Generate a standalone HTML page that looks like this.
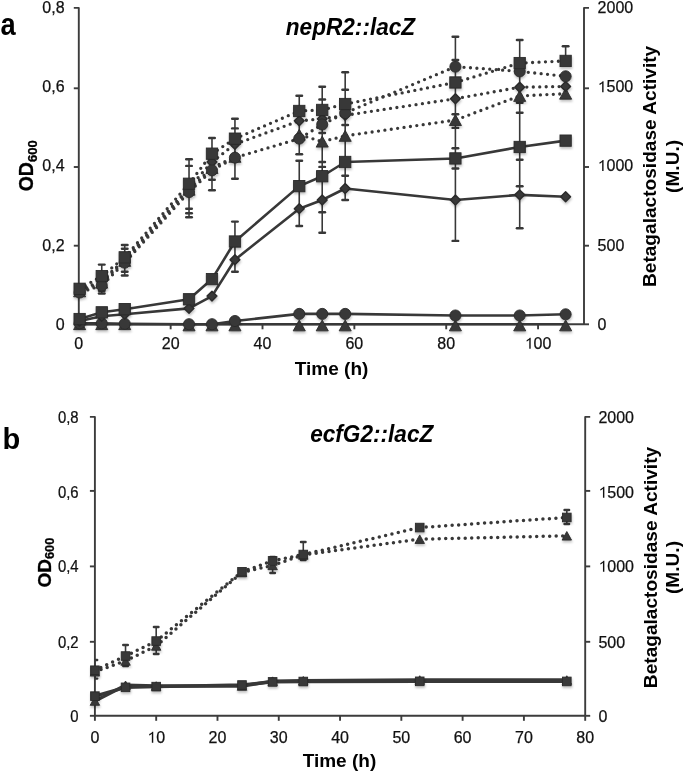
<!DOCTYPE html>
<html><head><meta charset="utf-8"><title>figure</title><style>
html,body{margin:0;padding:0;background:#fff;}
body{width:685px;height:772px;overflow:hidden;}
svg{display:block;filter:blur(0.35px);}
text{font-family:"Liberation Sans",sans-serif;}
</style></head><body>
<svg width="685" height="772" viewBox="0 0 685 772">
<defs><clipPath id="clipB"><rect x="94.9" y="380" width="500" height="340"/></clipPath><filter id="sh" x="-30%" y="-30%" width="160%" height="170%"><feDropShadow dx="0.5" dy="2" stdDeviation="1.2" flood-color="#000" flood-opacity="0.24"/></filter></defs>
<g id="chartA">
<g stroke="#3c3c3c" stroke-width="1.9" fill="none" stroke-linecap="butt" stroke-linejoin="round">
<path d="M73.8 7.9H78.8V324.3H584"/>
<path d="M589 7.9H584V324.3"/>
<path d="M73.8 324.3H78.8"/>
<path d="M584 324.3H589"/>
<path d="M73.8 245.7H78.8"/>
<path d="M584 245.7H589"/>
<path d="M73.8 167H78.8"/>
<path d="M584 167H589"/>
<path d="M73.8 88.3H78.8"/>
<path d="M584 88.3H589"/>
<path d="M78.8 324.3V329.3"/>
<path d="M170.65 324.3V329.3"/>
<path d="M262.51 324.3V329.3"/>
<path d="M354.36 324.3V329.3"/>
<path d="M446.22 324.3V329.3"/>
<path d="M538.07 324.3V329.3"/>
</g>
<g font-size="16" fill="#111" stroke="#111" stroke-width="0.25">
<text x="64.6" y="329.93" text-anchor="end">0</text>
<text x="64.6" y="251.13" text-anchor="end">0,2</text>
<text x="64.6" y="170.93" text-anchor="end">0,4</text>
<text x="64.6" y="92.23" text-anchor="end">0,6</text>
<text x="64.6" y="13.43" text-anchor="end">0,8</text>
<text x="597.6" y="329.93">0</text>
<text x="597.6" y="251.13">500</text>
<path transform="translate(597.6 170.93) scale(0.007812 -0.007812)" d="M763 0H583V1147Q518 1085 433 1023Q330 961 245 930V1104Q390 1172 499 1254Q609 1336 655 1409H763Z"/>
<text x="606.5" y="170.93">000</text>
<path transform="translate(597.6 92.23) scale(0.007812 -0.007812)" d="M763 0H583V1147Q518 1085 433 1023Q330 961 245 930V1104Q390 1172 499 1254Q609 1336 655 1409H763Z"/>
<text x="606.5" y="92.23">500</text>
<text x="597.6" y="13.43">2000</text>
<text x="78.8" y="348.8" text-anchor="middle">0</text>
<text x="170.65" y="348.8" text-anchor="middle">20</text>
<text x="262.51" y="348.8" text-anchor="middle">40</text>
<text x="354.36" y="348.8" text-anchor="middle">60</text>
<text x="446.22" y="348.8" text-anchor="middle">80</text>
<path transform="translate(524.72 348.8) scale(0.007812 -0.007812)" d="M763 0H583V1147Q518 1085 433 1023Q330 961 245 930V1104Q390 1172 499 1254Q609 1336 655 1409H763Z"/>
<text x="533.62" y="348.8">00</text>
</g>
<g>
<path d="M79.63 292.55L101.76 285.51M101.76 285.51L124.73 262.68M124.73 262.68L189.03 192.06M189.03 192.06L211.99 170.3M211.99 170.3L234.95 157.64M234.95 157.64L299.25 138.65M299.25 138.65L322.21 124.53M322.21 124.53L345.18 112.94M345.18 112.94L455.4 66.65M455.4 66.65L519.7 71.4M519.7 71.4L565.63 76.3" fill="none" stroke="#383838" stroke-width="3.3" stroke-dasharray="0 6.45" stroke-dashoffset="-2.2" stroke-linecap="round"/>
<path d="M79.63 290.18L101.76 280.68M101.76 280.68L124.73 259.71M124.73 259.71L189.03 187.71M189.03 187.71L211.99 161.99M211.99 161.99L234.95 144.19M234.95 144.19L299.25 120.85M299.25 120.85L322.21 118.87M322.21 118.87L345.18 115.31M345.18 115.31L455.4 98.69M455.4 98.69L519.7 87.22M519.7 87.22L565.63 86.43" fill="none" stroke="#383838" stroke-width="3.3" stroke-dasharray="0 6.45" stroke-dashoffset="-0.7" stroke-linecap="round"/>
<path d="M79.63 291.36L101.76 282.66M101.76 282.66L124.73 260.9M124.73 260.9L189.03 189.69M189.03 189.69L211.99 167.93M211.99 167.93L234.95 156.85M299.25 134.7L322.21 141.62M322.21 141.62L345.18 135.88M345.18 135.88L455.4 120.06M455.4 120.06L519.7 95.92M519.7 95.92L565.63 93.71" fill="none" stroke="#383838" stroke-width="3.3" stroke-dasharray="0 6.45" stroke-dashoffset="-1.4" stroke-linecap="round"/>
<path d="M79.63 288.79L101.76 276.09M101.76 276.09L124.73 257.34M124.73 257.34L189.03 183.75M189.03 183.75L211.99 153.69M211.99 153.69L234.95 138.65M234.95 138.65L299.25 110.96M299.25 110.96L322.21 109.93M322.21 109.93L345.18 104.03M345.18 104.03L455.4 82.47M455.4 82.47L519.7 63.09M519.7 63.09L565.63 60.91" fill="none" stroke="#383838" stroke-width="3.3" stroke-dasharray="0 6.45" stroke-dashoffset="0" stroke-linecap="round"/>
<polyline points="79.63,324.2 101.76,324.2 124.73,324.2 189.03,324.2 211.99,324.2 234.95,324.2 299.25,324.2 322.21,324.2 345.18,324.2 455.4,324.2 519.7,324.2 565.63,324.2" fill="none" stroke="#383838" stroke-width="2.6" stroke-linejoin="round"/>
<polyline points="79.63,323.41 101.76,323.41 124.73,323.8 189.03,324.2 211.99,324.2 234.95,321.03 299.25,313.91 322.21,313.91 345.18,313.91 455.4,315.5 519.7,315.5 565.63,314.31" fill="none" stroke="#383838" stroke-width="2.6" stroke-linejoin="round"/>
<polyline points="79.63,321.03 101.76,316.29 124.73,314.31 189.03,308.38 211.99,296.11 234.95,259.71 299.25,208.68 322.21,199.97 345.18,188.5 455.4,199.97 519.7,194.83 565.63,196.81" fill="none" stroke="#383838" stroke-width="2.6" stroke-linejoin="round"/>
<polyline points="79.63,319.06 101.76,312.33 124.73,309.17 189.03,299.28 211.99,279.1 234.95,241.51 299.25,186.13 322.21,176.24 345.18,161.99 455.4,158.43 519.7,146.96 565.63,140.63" fill="none" stroke="#383838" stroke-width="2.6" stroke-linejoin="round"/>
</g>
<g stroke="#383838" stroke-width="1.6">
<line x1="101.76" y1="264.6" x2="101.76" y2="293.5"/>
<line x1="98.96" y1="290.7" x2="104.56" y2="290.7" stroke-width="2.4" stroke-linecap="round"/>
<line x1="98.96" y1="264.6" x2="104.56" y2="264.6" stroke-width="2.4" stroke-linecap="round"/>
<line x1="98.96" y1="293.5" x2="104.56" y2="293.5" stroke-width="2.4" stroke-linecap="round"/>
<line x1="124.73" y1="245" x2="124.73" y2="275.5"/>
<line x1="121.93" y1="248.7" x2="127.53" y2="248.7" stroke-width="2.4" stroke-linecap="round"/>
<line x1="121.93" y1="271.8" x2="127.53" y2="271.8" stroke-width="2.4" stroke-linecap="round"/>
<line x1="121.93" y1="245" x2="127.53" y2="245" stroke-width="2.4" stroke-linecap="round"/>
<line x1="121.93" y1="275.5" x2="127.53" y2="275.5" stroke-width="2.4" stroke-linecap="round"/>
<line x1="189.03" y1="159.3" x2="189.03" y2="217.3"/>
<line x1="186.23" y1="165.9" x2="191.83" y2="165.9" stroke-width="2.4" stroke-linecap="round"/>
<line x1="186.23" y1="208.7" x2="191.83" y2="208.7" stroke-width="2.4" stroke-linecap="round"/>
<line x1="186.23" y1="213.3" x2="191.83" y2="213.3" stroke-width="2.4" stroke-linecap="round"/>
<line x1="186.23" y1="159.3" x2="191.83" y2="159.3" stroke-width="2.4" stroke-linecap="round"/>
<line x1="186.23" y1="217.3" x2="191.83" y2="217.3" stroke-width="2.4" stroke-linecap="round"/>
<line x1="211.99" y1="138" x2="211.99" y2="190.2"/>
<line x1="209.19" y1="179.7" x2="214.79" y2="179.7" stroke-width="2.4" stroke-linecap="round"/>
<line x1="209.19" y1="138" x2="214.79" y2="138" stroke-width="2.4" stroke-linecap="round"/>
<line x1="209.19" y1="190.2" x2="214.79" y2="190.2" stroke-width="2.4" stroke-linecap="round"/>
<line x1="234.95" y1="118.8" x2="234.95" y2="178.7"/>
<line x1="232.15" y1="128.4" x2="237.75" y2="128.4" stroke-width="2.4" stroke-linecap="round"/>
<line x1="232.15" y1="118.8" x2="237.75" y2="118.8" stroke-width="2.4" stroke-linecap="round"/>
<line x1="232.15" y1="178.7" x2="237.75" y2="178.7" stroke-width="2.4" stroke-linecap="round"/>
<line x1="234.95" y1="221.6" x2="234.95" y2="271.8"/>
<line x1="232.15" y1="221.6" x2="237.75" y2="221.6" stroke-width="2.4" stroke-linecap="round"/>
<line x1="232.15" y1="271.8" x2="237.75" y2="271.8" stroke-width="2.4" stroke-linecap="round"/>
<line x1="299.25" y1="95.8" x2="299.25" y2="154.2"/>
<line x1="296.45" y1="95.8" x2="302.05" y2="95.8" stroke-width="2.4" stroke-linecap="round"/>
<line x1="296.45" y1="154.2" x2="302.05" y2="154.2" stroke-width="2.4" stroke-linecap="round"/>
<line x1="299.25" y1="160.8" x2="299.25" y2="226"/>
<line x1="296.45" y1="160.8" x2="302.05" y2="160.8" stroke-width="2.4" stroke-linecap="round"/>
<line x1="296.45" y1="226" x2="302.05" y2="226" stroke-width="2.4" stroke-linecap="round"/>
<line x1="322.21" y1="86.8" x2="322.21" y2="232.7"/>
<line x1="319.41" y1="99.5" x2="325.01" y2="99.5" stroke-width="2.4" stroke-linecap="round"/>
<line x1="319.41" y1="133" x2="325.01" y2="133" stroke-width="2.4" stroke-linecap="round"/>
<line x1="319.41" y1="162" x2="325.01" y2="162" stroke-width="2.4" stroke-linecap="round"/>
<line x1="319.41" y1="166.9" x2="325.01" y2="166.9" stroke-width="2.4" stroke-linecap="round"/>
<line x1="319.41" y1="212.3" x2="325.01" y2="212.3" stroke-width="2.4" stroke-linecap="round"/>
<line x1="319.41" y1="86.8" x2="325.01" y2="86.8" stroke-width="2.4" stroke-linecap="round"/>
<line x1="319.41" y1="232.7" x2="325.01" y2="232.7" stroke-width="2.4" stroke-linecap="round"/>
<line x1="345.18" y1="72.2" x2="345.18" y2="200"/>
<line x1="342.38" y1="89.8" x2="347.98" y2="89.8" stroke-width="2.4" stroke-linecap="round"/>
<line x1="342.38" y1="125" x2="347.98" y2="125" stroke-width="2.4" stroke-linecap="round"/>
<line x1="342.38" y1="175.8" x2="347.98" y2="175.8" stroke-width="2.4" stroke-linecap="round"/>
<line x1="342.38" y1="72.2" x2="347.98" y2="72.2" stroke-width="2.4" stroke-linecap="round"/>
<line x1="342.38" y1="200" x2="347.98" y2="200" stroke-width="2.4" stroke-linecap="round"/>
<line x1="455.4" y1="36.8" x2="455.4" y2="240.9"/>
<line x1="452.6" y1="60" x2="458.2" y2="60" stroke-width="2.4" stroke-linecap="round"/>
<line x1="452.6" y1="114.3" x2="458.2" y2="114.3" stroke-width="2.4" stroke-linecap="round"/>
<line x1="452.6" y1="127.9" x2="458.2" y2="127.9" stroke-width="2.4" stroke-linecap="round"/>
<line x1="452.6" y1="148.3" x2="458.2" y2="148.3" stroke-width="2.4" stroke-linecap="round"/>
<line x1="452.6" y1="168.5" x2="458.2" y2="168.5" stroke-width="2.4" stroke-linecap="round"/>
<line x1="452.6" y1="36.8" x2="458.2" y2="36.8" stroke-width="2.4" stroke-linecap="round"/>
<line x1="452.6" y1="240.9" x2="458.2" y2="240.9" stroke-width="2.4" stroke-linecap="round"/>
<line x1="519.7" y1="40" x2="519.7" y2="228.3"/>
<line x1="516.9" y1="102.7" x2="522.5" y2="102.7" stroke-width="2.4" stroke-linecap="round"/>
<line x1="516.9" y1="112.7" x2="522.5" y2="112.7" stroke-width="2.4" stroke-linecap="round"/>
<line x1="516.9" y1="159.8" x2="522.5" y2="159.8" stroke-width="2.4" stroke-linecap="round"/>
<line x1="516.9" y1="186.3" x2="522.5" y2="186.3" stroke-width="2.4" stroke-linecap="round"/>
<line x1="516.9" y1="40" x2="522.5" y2="40" stroke-width="2.4" stroke-linecap="round"/>
<line x1="516.9" y1="228.3" x2="522.5" y2="228.3" stroke-width="2.4" stroke-linecap="round"/>
<line x1="565.63" y1="46.2" x2="565.63" y2="60"/>
<line x1="562.83" y1="46.2" x2="568.43" y2="46.2" stroke-width="2.4" stroke-linecap="round"/>
<line x1="562.83" y1="60" x2="568.43" y2="60" stroke-width="2.4" stroke-linecap="round"/>
</g>
<g fill="#383838" stroke="#2a2a2a" stroke-width="0.9" filter="url(#sh)">
<path d="M79.63 285.9L85.66 296.83L73.59 296.83Z"/>
<path d="M101.76 277.2L107.8 288.12L95.73 288.12Z"/>
<path d="M124.73 255.44L130.76 266.36L118.69 266.36Z"/>
<path d="M189.03 184.22L195.06 195.15L182.99 195.15Z"/>
<path d="M211.99 162.47L218.03 173.39L205.95 173.39Z"/>
<path d="M234.95 151.39L240.99 162.31L228.92 162.31Z"/>
<path d="M299.25 129.23L305.29 140.16L293.21 140.16Z"/>
<path d="M322.21 136.16L328.25 147.08L316.18 147.08Z"/>
<path d="M345.18 130.42L351.22 141.34L339.14 141.34Z"/>
<path d="M455.4 114.59L461.44 125.52L449.37 125.52Z"/>
<path d="M519.7 90.46L525.74 101.39L513.66 101.39Z"/>
<path d="M565.63 88.25L571.67 99.17L559.59 99.17Z"/>
<path d="M79.63 285.23L84.57 290.18L79.63 295.12L74.68 290.18Z" stroke-width="1.4" stroke-linejoin="round"/>
<path d="M101.76 275.74L106.71 280.68L101.76 285.63L96.82 280.68Z" stroke-width="1.4" stroke-linejoin="round"/>
<path d="M124.73 254.77L129.67 259.71L124.73 264.66L119.78 259.71Z" stroke-width="1.4" stroke-linejoin="round"/>
<path d="M189.03 182.76L193.97 187.71L189.03 192.65L184.08 187.71Z" stroke-width="1.4" stroke-linejoin="round"/>
<path d="M211.99 157.05L216.93 161.99L211.99 166.94L207.04 161.99Z" stroke-width="1.4" stroke-linejoin="round"/>
<path d="M234.95 139.25L239.9 144.19L234.95 149.14L230.01 144.19Z" stroke-width="1.4" stroke-linejoin="round"/>
<path d="M299.25 115.9L304.2 120.85L299.25 125.79L294.31 120.85Z" stroke-width="1.4" stroke-linejoin="round"/>
<path d="M322.21 113.93L327.16 118.87L322.21 123.82L317.27 118.87Z" stroke-width="1.4" stroke-linejoin="round"/>
<path d="M345.18 110.37L350.12 115.31L345.18 120.25L340.23 115.31Z" stroke-width="1.4" stroke-linejoin="round"/>
<path d="M455.4 93.75L460.35 98.69L455.4 103.64L450.46 98.69Z" stroke-width="1.4" stroke-linejoin="round"/>
<path d="M519.7 82.28L524.65 87.22L519.7 92.17L514.76 87.22Z" stroke-width="1.4" stroke-linejoin="round"/>
<path d="M565.63 81.48L570.57 86.43L565.63 91.37L560.68 86.43Z" stroke-width="1.4" stroke-linejoin="round"/>
<circle cx="79.63" cy="292.55" r="5.55"/>
<circle cx="101.76" cy="285.51" r="5.55"/>
<circle cx="124.73" cy="262.68" r="5.55"/>
<circle cx="189.03" cy="192.06" r="5.55"/>
<circle cx="211.99" cy="170.3" r="5.55"/>
<circle cx="234.95" cy="157.64" r="5.55"/>
<circle cx="299.25" cy="138.65" r="5.55"/>
<circle cx="322.21" cy="124.53" r="5.55"/>
<circle cx="345.18" cy="112.94" r="5.55"/>
<circle cx="455.4" cy="66.65" r="5.55"/>
<circle cx="519.7" cy="71.4" r="5.55"/>
<circle cx="565.63" cy="76.3" r="5.55"/>
<rect x="73.97" y="283.14" width="11.31" height="11.31"/>
<rect x="96.11" y="270.44" width="11.31" height="11.31"/>
<rect x="119.07" y="251.69" width="11.31" height="11.31"/>
<rect x="183.37" y="178.1" width="11.31" height="11.31"/>
<rect x="206.34" y="148.03" width="11.31" height="11.31"/>
<rect x="229.3" y="133" width="11.31" height="11.31"/>
<rect x="293.6" y="105.31" width="11.31" height="11.31"/>
<rect x="316.56" y="104.28" width="11.31" height="11.31"/>
<rect x="339.53" y="98.38" width="11.31" height="11.31"/>
<rect x="449.75" y="76.82" width="11.31" height="11.31"/>
<rect x="514.05" y="57.43" width="11.31" height="11.31"/>
<rect x="559.98" y="55.26" width="11.31" height="11.31"/>
<path d="M79.63 318.74L85.66 329.66L73.59 329.66Z"/>
<path d="M101.76 318.74L107.8 329.66L95.73 329.66Z"/>
<path d="M124.73 318.74L130.76 329.66L118.69 329.66Z"/>
<path d="M189.03 319.94L195.06 330.86L182.99 330.86Z"/>
<path d="M211.99 319.94L218.03 330.86L205.95 330.86Z"/>
<path d="M234.95 319.94L240.99 330.86L228.92 330.86Z"/>
<path d="M299.25 319.94L305.29 330.86L293.21 330.86Z"/>
<path d="M322.21 319.94L328.25 330.86L316.18 330.86Z"/>
<path d="M345.18 319.94L351.22 330.86L339.14 330.86Z"/>
<path d="M455.4 319.94L461.44 330.86L449.37 330.86Z"/>
<path d="M519.7 319.94L525.74 330.86L513.66 330.86Z"/>
<path d="M565.63 319.94L571.67 330.86L559.59 330.86Z"/>
<circle cx="79.63" cy="323.41" r="5.55"/>
<circle cx="101.76" cy="323.41" r="5.55"/>
<circle cx="124.73" cy="323.8" r="5.55"/>
<circle cx="189.03" cy="324.2" r="5.55"/>
<circle cx="211.99" cy="324.2" r="5.55"/>
<circle cx="234.95" cy="321.03" r="5.55"/>
<circle cx="299.25" cy="313.91" r="5.55"/>
<circle cx="322.21" cy="313.91" r="5.55"/>
<circle cx="345.18" cy="313.91" r="5.55"/>
<circle cx="455.4" cy="315.5" r="5.55"/>
<circle cx="519.7" cy="315.5" r="5.55"/>
<circle cx="565.63" cy="314.31" r="5.55"/>
<path d="M79.63 316.09L84.57 321.03L79.63 325.98L74.68 321.03Z" stroke-width="1.4" stroke-linejoin="round"/>
<path d="M101.76 311.34L106.71 316.29L101.76 321.23L96.82 316.29Z" stroke-width="1.4" stroke-linejoin="round"/>
<path d="M124.73 309.36L129.67 314.31L124.73 319.25L119.78 314.31Z" stroke-width="1.4" stroke-linejoin="round"/>
<path d="M189.03 303.43L193.97 308.38L189.03 313.32L184.08 308.38Z" stroke-width="1.4" stroke-linejoin="round"/>
<path d="M211.99 291.17L216.93 296.11L211.99 301.06L207.04 296.11Z" stroke-width="1.4" stroke-linejoin="round"/>
<path d="M234.95 254.77L239.9 259.71L234.95 264.66L230.01 259.71Z" stroke-width="1.4" stroke-linejoin="round"/>
<path d="M299.25 203.73L304.2 208.68L299.25 213.62L294.31 208.68Z" stroke-width="1.4" stroke-linejoin="round"/>
<path d="M322.21 195.03L327.16 199.97L322.21 204.92L317.27 199.97Z" stroke-width="1.4" stroke-linejoin="round"/>
<path d="M345.18 183.56L350.12 188.5L345.18 193.45L340.23 188.5Z" stroke-width="1.4" stroke-linejoin="round"/>
<path d="M455.4 195.03L460.35 199.97L455.4 204.92L450.46 199.97Z" stroke-width="1.4" stroke-linejoin="round"/>
<path d="M519.7 189.89L524.65 194.83L519.7 199.78L514.76 194.83Z" stroke-width="1.4" stroke-linejoin="round"/>
<path d="M565.63 191.86L570.57 196.81L565.63 201.75L560.68 196.81Z" stroke-width="1.4" stroke-linejoin="round"/>
<rect x="73.97" y="313.4" width="11.31" height="11.31"/>
<rect x="96.11" y="306.68" width="11.31" height="11.31"/>
<rect x="119.07" y="303.51" width="11.31" height="11.31"/>
<rect x="183.37" y="293.62" width="11.31" height="11.31"/>
<rect x="206.34" y="273.45" width="11.31" height="11.31"/>
<rect x="229.3" y="235.86" width="11.31" height="11.31"/>
<rect x="293.6" y="180.47" width="11.31" height="11.31"/>
<rect x="316.56" y="170.58" width="11.31" height="11.31"/>
<rect x="339.53" y="156.34" width="11.31" height="11.31"/>
<rect x="449.75" y="152.78" width="11.31" height="11.31"/>
<rect x="514.05" y="141.31" width="11.31" height="11.31"/>
<rect x="559.98" y="134.98" width="11.31" height="11.31"/>
</g>
<text transform="translate(0.6 35.4) scale(0.88 1)" font-size="31" font-weight="bold" fill="#000">a</text>
<text transform="translate(285.8 35.2) scale(0.983 1)" font-size="23" font-weight="bold" font-style="italic" fill="#000">nepR2::lacZ</text>
<text x="294.8" y="375" font-size="19" font-weight="bold" fill="#000">Time (h)</text>
<text transform="translate(33.0 191.3) rotate(-90)" font-size="19.5" font-weight="bold" fill="#000" stroke="#000" stroke-width="0.3">OD<tspan font-size="13" dy="3.9">600</tspan></text>
<text transform="translate(656.4 166.4) rotate(-90)" font-size="19.1" font-weight="bold" fill="#000" text-anchor="middle">Betagalactosidase Activity</text>
<text transform="translate(678.6 166.4) rotate(-90)" font-size="19.1" font-weight="bold" fill="#000" text-anchor="middle">(M.U.)</text>
</g>
<g id="chartB">
<g stroke="#3c3c3c" stroke-width="1.9" fill="none" stroke-linecap="butt" stroke-linejoin="round">
<path d="M89.9 416.9H94.9V715.8H585.2"/>
<path d="M590.2 416.9H585.2V715.8"/>
<path d="M89.9 715.8H94.9"/>
<path d="M585.2 715.8H590.2"/>
<path d="M89.9 641.8H94.9"/>
<path d="M585.2 641.8H590.2"/>
<path d="M89.9 566.4H94.9"/>
<path d="M585.2 566.4H590.2"/>
<path d="M89.9 490.9H94.9"/>
<path d="M585.2 490.9H590.2"/>
<path d="M94.9 715.8V720.8"/>
<path d="M156.19 715.8V720.8"/>
<path d="M217.48 715.8V720.8"/>
<path d="M278.76 715.8V720.8"/>
<path d="M340.05 715.8V720.8"/>
<path d="M401.34 715.8V720.8"/>
<path d="M462.62 715.8V720.8"/>
<path d="M523.91 715.8V720.8"/>
<path d="M585.2 715.8V720.8"/>
</g>
<g font-size="16" fill="#111" stroke="#111" stroke-width="0.25">
<text x="78.6" y="721.53" text-anchor="end" transform="translate(78.6 0) scale(0.93 1) translate(-78.6 0)">0</text>
<text x="78.6" y="647.53" text-anchor="end" transform="translate(78.6 0) scale(0.93 1) translate(-78.6 0)">0,2</text>
<text x="78.6" y="571.83" text-anchor="end" transform="translate(78.6 0) scale(0.93 1) translate(-78.6 0)">0,4</text>
<text x="78.6" y="497.83" text-anchor="end" transform="translate(78.6 0) scale(0.93 1) translate(-78.6 0)">0,6</text>
<text x="78.6" y="422.63" text-anchor="end" transform="translate(78.6 0) scale(0.93 1) translate(-78.6 0)">0,8</text>
<text x="598.4" y="721.53">0</text>
<text x="598.4" y="647.53">500</text>
<path transform="translate(598.4 571.83) scale(0.007812 -0.007812)" d="M763 0H583V1147Q518 1085 433 1023Q330 961 245 930V1104Q390 1172 499 1254Q609 1336 655 1409H763Z"/>
<text x="607.3" y="571.83">000</text>
<path transform="translate(598.4 497.83) scale(0.007812 -0.007812)" d="M763 0H583V1147Q518 1085 433 1023Q330 961 245 930V1104Q390 1172 499 1254Q609 1336 655 1409H763Z"/>
<text x="607.3" y="497.83">500</text>
<text x="598.4" y="422.63">2000</text>
<text x="94.9" y="742.7" text-anchor="middle">0</text>
<path transform="translate(147.29 742.7) scale(0.007812 -0.007812)" d="M763 0H583V1147Q518 1085 433 1023Q330 961 245 930V1104Q390 1172 499 1254Q609 1336 655 1409H763Z"/>
<text x="156.19" y="742.7">0</text>
<text x="217.48" y="742.7" text-anchor="middle">20</text>
<text x="278.76" y="742.7" text-anchor="middle">30</text>
<text x="340.05" y="742.7" text-anchor="middle">40</text>
<text x="401.34" y="742.7" text-anchor="middle">50</text>
<text x="462.62" y="742.7" text-anchor="middle">60</text>
<text x="523.91" y="742.7" text-anchor="middle">70</text>
<text x="585.2" y="742.7" text-anchor="middle">80</text>
</g>
<g>
<path d="M94.9 671.79L125.54 660.93M125.54 660.93L156.19 645.95M156.19 645.95L241.99 572.52M241.99 572.52L272.63 565.4M272.63 565.4L303.28 554.91M303.28 554.91L419.72 539.18M419.72 539.18L566.81 535.81" fill="none" stroke="#383838" stroke-width="3.5" stroke-dasharray="0 6.5" stroke-dashoffset="0" stroke-linecap="round"/>
<path d="M94.9 670.26L125.54 656.06M125.54 656.06L156.19 641.08M156.19 641.08L241.99 571.77M241.99 571.77L272.63 560.91M272.63 560.91L303.28 554.54M303.28 554.54L419.72 527.56M419.72 527.56L566.81 517.45" fill="none" stroke="#383838" stroke-width="3.5" stroke-dasharray="0 6.5" stroke-dashoffset="0" stroke-linecap="round"/>
<polyline points="94.9,701.01 125.54,685.28 156.19,686.03 241.99,686.03 272.63,681.16 303.28,680.79 419.72,680.04 566.81,680.04" fill="none" stroke="#383838" stroke-width="3.4" stroke-linejoin="round"/>
<polyline points="94.9,696.14 125.54,687.34 156.19,686.63 241.99,685.02 272.63,681.91 303.28,681.53 419.72,681.35 566.81,681.42" fill="none" stroke="#383838" stroke-width="3.4" stroke-linejoin="round"/>
</g>
<g stroke="#383838" stroke-width="1.6" clip-path="url(#clipB)">
<line x1="94.9" y1="660" x2="94.9" y2="678.6"/>
<line x1="92.6" y1="660" x2="97.2" y2="660" stroke-width="2.4" stroke-linecap="round"/>
<line x1="92.6" y1="678.6" x2="97.2" y2="678.6" stroke-width="2.4" stroke-linecap="round"/>
<line x1="125.54" y1="645" x2="125.54" y2="666"/>
<line x1="123.24" y1="645" x2="127.84" y2="645" stroke-width="2.4" stroke-linecap="round"/>
<line x1="123.24" y1="666" x2="127.84" y2="666" stroke-width="2.4" stroke-linecap="round"/>
<line x1="156.19" y1="627" x2="156.19" y2="654"/>
<line x1="153.89" y1="627" x2="158.49" y2="627" stroke-width="2.4" stroke-linecap="round"/>
<line x1="153.89" y1="654" x2="158.49" y2="654" stroke-width="2.4" stroke-linecap="round"/>
<line x1="272.63" y1="557" x2="272.63" y2="573"/>
<line x1="270.33" y1="557" x2="274.93" y2="557" stroke-width="2.4" stroke-linecap="round"/>
<line x1="270.33" y1="573" x2="274.93" y2="573" stroke-width="2.4" stroke-linecap="round"/>
<line x1="303.28" y1="542" x2="303.28" y2="560"/>
<line x1="300.98" y1="542" x2="305.58" y2="542" stroke-width="2.4" stroke-linecap="round"/>
<line x1="300.98" y1="560" x2="305.58" y2="560" stroke-width="2.4" stroke-linecap="round"/>
<line x1="566.81" y1="510" x2="566.81" y2="524"/>
<line x1="564.51" y1="510" x2="569.11" y2="510" stroke-width="2.4" stroke-linecap="round"/>
<line x1="564.51" y1="524" x2="569.11" y2="524" stroke-width="2.4" stroke-linecap="round"/>
</g>
<g fill="#383838" stroke="#2a2a2a" stroke-width="0.9" filter="url(#sh)">
<path d="M94.9 667.52L99.62 676.07L90.18 676.07Z"/>
<path d="M125.54 656.66L130.27 665.21L120.82 665.21Z"/>
<path d="M156.19 641.67L160.91 650.22L151.46 650.22Z"/>
<path d="M241.99 568.24L246.72 576.79L237.27 576.79Z"/>
<path d="M272.63 561.13L277.36 569.68L267.91 569.68Z"/>
<path d="M303.28 550.64L308 559.19L298.55 559.19Z"/>
<path d="M419.72 534.9L424.45 543.45L415 543.45Z"/>
<path d="M566.81 531.53L571.54 540.08L562.09 540.08Z"/>
<rect x="90.59" y="665.94" width="8.63" height="8.63"/>
<rect x="121.23" y="651.74" width="8.63" height="8.63"/>
<rect x="151.87" y="636.76" width="8.63" height="8.63"/>
<rect x="237.68" y="567.45" width="8.63" height="8.63"/>
<rect x="268.32" y="556.59" width="8.63" height="8.63"/>
<rect x="298.96" y="550.22" width="8.63" height="8.63"/>
<rect x="415.41" y="523.25" width="8.63" height="8.63"/>
<rect x="562.5" y="513.13" width="8.63" height="8.63"/>
<path d="M94.9 696.74L99.62 705.29L90.18 705.29Z"/>
<path d="M125.54 681.01L130.27 689.56L120.82 689.56Z"/>
<path d="M156.19 681.75L160.91 690.3L151.46 690.3Z"/>
<path d="M241.99 681.75L246.72 690.3L237.27 690.3Z"/>
<path d="M272.63 676.88L277.36 685.43L267.91 685.43Z"/>
<path d="M303.28 676.51L308 685.06L298.55 685.06Z"/>
<path d="M419.72 675.76L424.45 684.31L415 684.31Z"/>
<path d="M566.81 675.76L571.54 684.31L562.09 684.31Z"/>
<rect x="90.59" y="691.83" width="8.63" height="8.63"/>
<rect x="121.23" y="683.03" width="8.63" height="8.63"/>
<rect x="151.87" y="682.31" width="8.63" height="8.63"/>
<rect x="237.68" y="680.7" width="8.63" height="8.63"/>
<rect x="268.32" y="677.59" width="8.63" height="8.63"/>
<rect x="298.96" y="677.22" width="8.63" height="8.63"/>
<rect x="415.41" y="677.03" width="8.63" height="8.63"/>
<rect x="562.5" y="677.11" width="8.63" height="8.63"/>
</g>
<text transform="translate(2.4 449.2)" font-size="29" font-weight="bold" fill="#000">b</text>
<text transform="translate(310.2 442.1) scale(0.983 1)" font-size="23" font-weight="bold" font-style="italic" fill="#000">ecfG2::lacZ</text>
<text x="302.7" y="766.8" font-size="19" font-weight="bold" fill="#000">Time (h)</text>
<text transform="translate(50.8 587.5) rotate(-90)" font-size="19" font-weight="bold" fill="#000" stroke="#000" stroke-width="0.3">OD<tspan font-size="12.8" dy="3.6">600</tspan></text>
<text transform="translate(657.3 567.5) rotate(-90)" font-size="19.1" font-weight="bold" fill="#000" text-anchor="middle">Betagalactosidase Activity</text>
<text transform="translate(679.2 567.5) rotate(-90)" font-size="19.1" font-weight="bold" fill="#000" text-anchor="middle">(M.U.)</text>
</g>
</svg>
</body></html>
